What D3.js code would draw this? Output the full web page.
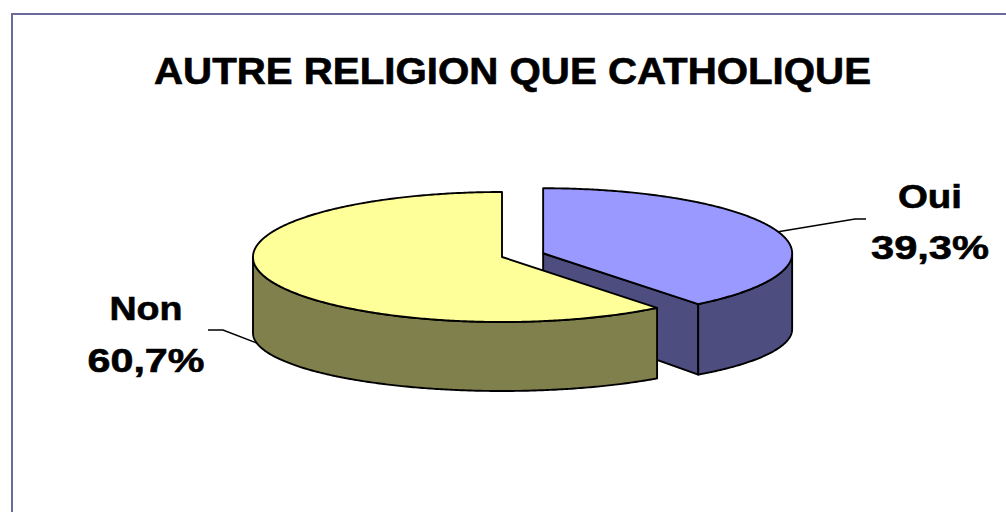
<!DOCTYPE html>
<html>
<head>
<meta charset="utf-8">
<script src="https://cdn.jsdelivr.net/npm/d3@7"></script>
<style>
  html, body { margin: 0; padding: 0; background: #ffffff; }
  svg { display: block; }
  text { font-family: "Liberation Sans", Arial, sans-serif; font-weight: bold; fill: #000; stroke: #000; stroke-width: 0.6; }
</style>
</head>
<body>
<svg id="chart" width="1006" height="512"></svg>
<script>
// ---- data ----
const chartTitle = "AUTRE RELIGION QUE CATHOLIQUE";
const categories = ["Oui", "Non"];
const values = [39.3, 60.7];
const valueLabels = ["39,3%", "60,7%"];

// ---- styles ----
const topColors = ["#9999ff", "#ffff99"];
const sideColors = ["#4d4d80", "#80804d"];
const explode = [0.175, 0];          // fraction of radius each slice is pulled out
const borderColor = "#6b6b9b";

// ---- layout ----
const W = 1006, H = 512;
const geo = { cx: 502, cy: 257, rx: 249, ry: 65, depth: 76, ryBottom: 58, depthCenter: 66 };
// label blocks: name baseline, value on the next line, leader elbow and tip
const labelLayout = [
  { x: 930, y: 208, lineGap: 51, w1: 64, w2: 118, leader: [[866, 219], [855, 219]], tipDepth: 0 },
  { x: 146, y: 320, lineGap: 52, w1: 73, w2: 117, leader: [[208, 330], [223, 330]], tipDepth: 0.93 }
];

const svg = d3.select("#chart");

// chart area frame
svg.append("rect")
  .attr("x", 12).attr("y", 14)
  .attr("width", W + 10).attr("height", H + 10)
  .attr("fill", "#ffffff")
  .attr("stroke", borderColor)
  .attr("stroke-width", 2);

// title
svg.append("text")
  .attr("x", 512.5).attr("y", 84)
  .attr("text-anchor", "middle")
  .attr("font-size", 36)
  .attr("textLength", 717)
  .attr("lengthAdjust", "spacingAndGlyphs")
  .text(chartTitle);

// angles, clockwise from 12 o'clock
const pie = d3.pie().sort(null).value(d => d)(values);

// projection of the disc: top rim and bottom rim ellipses
const topPt = (a, o) => [o.x + geo.rx * Math.sin(a), o.y - geo.ry * Math.cos(a)];
const botPt = (a, o) => [o.x + geo.rx * Math.sin(a), o.y + geo.depth - geo.ryBottom * Math.cos(a)];
const arcPts = (a0, a1, fn, o) => {
  const n = Math.max(2, Math.ceil(Math.abs(a1 - a0) / 0.01));
  return d3.range(n + 1).map(i => fn(a0 + (a1 - a0) * i / n, o));
};
const line = d3.line();

const slices = pie.map((p, i) => {
  const mid = (p.startAngle + p.endAngle) / 2;
  const e = explode[i];
  const o = { x: geo.cx + e * geo.rx * Math.sin(mid), y: geo.cy - e * geo.ry * Math.cos(mid) };
  return { p, i, mid, o };
});

// leader lines sit behind the pie
slices.forEach(s => {
  const L = labelLayout[s.i];
  const t = topPt(s.mid, s.o), b = botPt(s.mid, s.o);
  const tip = [t[0] + (b[0] - t[0]) * L.tipDepth, t[1] + (b[1] - t[1]) * L.tipDepth];
  svg.append("path")
    .attr("d", line([L.leader[0], L.leader[1], tip]))
    .attr("fill", "none")
    .attr("stroke", "#000")
    .attr("stroke-width", 1.5);
});

const pieG = svg.append("g")
  .attr("stroke", "#000")
  .attr("stroke-width", 1.9)
  .attr("stroke-linejoin", "round");

slices.forEach(s => {
  const { p, i, o } = s;
  const a0 = p.startAngle, a1 = p.endAngle;
  const g = pieG.append("g");
  const centerTop = [o.x, o.y];
  const centerBot = [o.x, o.y + geo.depthCenter];

  // radial cut faces turned toward the viewer
  [[a0, a0 - Math.PI / 2], [a1, a1 + Math.PI / 2]].forEach(([a, normal]) => {
    if (-Math.cos(normal) > 0.01) {
      g.append("path")
        .attr("d", line([centerTop, topPt(a, o), botPt(a, o), centerBot]) + "Z")
        .attr("fill", sideColors[i]);
    }
  });

  // outer wall, front half only
  const w0 = Math.max(a0, Math.PI / 2), w1 = Math.min(a1, 3 * Math.PI / 2);
  if (w1 > w0) {
    const pts = arcPts(w0, w1, topPt, o).concat(arcPts(w1, w0, botPt, o));
    g.append("path")
      .attr("d", line(pts) + "Z")
      .attr("fill", sideColors[i]);
  }

  // top face
  g.append("path")
    .attr("d", line([centerTop].concat(arcPts(a0, a1, topPt, o))) + "Z")
    .attr("fill", topColors[i]);
});

// data labels
slices.forEach(s => {
  const L = labelLayout[s.i];
  svg.append("text")
    .attr("x", L.x).attr("y", L.y)
    .attr("text-anchor", "middle")
    .attr("font-size", 33)
    .attr("textLength", L.w1)
    .attr("lengthAdjust", "spacingAndGlyphs")
    .text(categories[s.i]);
  svg.append("text")
    .attr("x", L.x).attr("y", L.y + L.lineGap)
    .attr("text-anchor", "middle")
    .attr("font-size", 33)
    .attr("textLength", L.w2)
    .attr("lengthAdjust", "spacingAndGlyphs")
    .text(valueLabels[s.i]);
});
</script>
</body>
</html>
